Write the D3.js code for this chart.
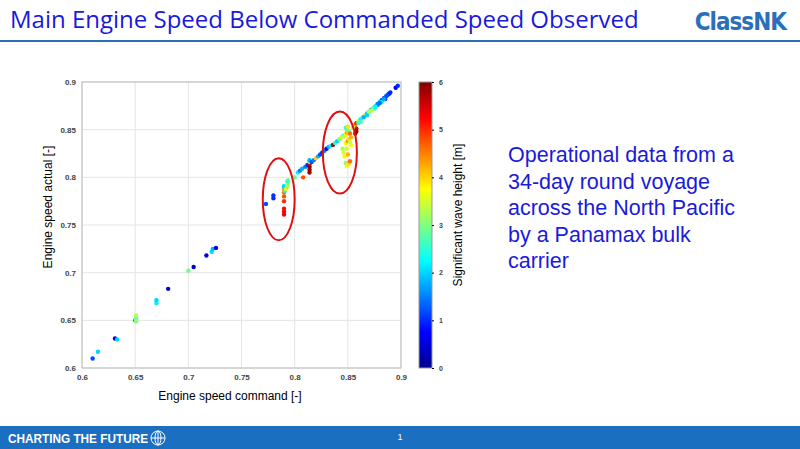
<!DOCTYPE html>
<html><head><meta charset="utf-8">
<script src="https://cdn.jsdelivr.net/npm/d3@7"></script>
<style>body{margin:0;background:#fff;}svg{display:block;font-family:Arial,"Liberation Sans",sans-serif;}</style>
</head><body><svg id="chart" width="800" height="449"></svg>
<script>
// engine speed command, actual, significant wave height
var cmd = [0.61,0.615,0.631,0.633,0.65,0.651,0.651,0.651,0.651,0.67,0.67,0.681,0.70,0.705,0.717,0.722,0.723,0.726,
  0.773,0.78,0.78,0.79,0.79,0.79,0.79,0.79,0.79,0.79,0.79,0.79,0.79,0.791,0.792,0.793,0.793,0.794,0.794,0.793,0.80,
  0.803,0.805,0.807,0.808,0.81,0.812,0.814,0.814,0.814,0.814,0.814,0.814,0.816,0.818,0.82,0.822,0.824,0.826,0.828,0.83,0.832,0.834,0.836,0.838,0.84,0.842,0.844,0.846,
  0.845,0.846,0.847,0.848,0.849,0.85,0.851,0.852,0.85,0.849,0.848,0.85,0.851,0.852,0.853,0.847,0.848,0.849,0.85,0.851,0.849,0.848,0.85,0.852,0.853,
  0.856,0.857,0.857,0.858,0.858,0.858,0.86,0.862,0.864,0.866,0.868,0.87,0.872,0.874,0.876,0.878,0.88,0.882,0.884,0.886,0.888,0.889,0.89,0.895,0.897,
  0.855,0.86,0.865,0.87,0.875,0.878,0.882,0.885,0.862,0.868,0.872,0.876,0.88,0.884,0.887];
var actual = [0.61,0.617,0.631,0.63,0.65,0.649,0.651,0.653,0.655,0.668,0.671,0.683,0.702,0.706,0.718,0.722,0.725,0.726,
  0.772,0.778,0.781,0.761,0.764,0.767,0.775,0.78,0.784,0.787,0.789,0.791,0.79,0.786,0.788,0.79,0.792,0.795,0.797,0.796,0.80,
  0.805,0.807,0.809,0.80,0.811,0.813,0.805,0.808,0.811,0.814,0.816,0.818,0.816,0.818,0.82,0.822,0.824,0.826,0.828,0.83,0.832,0.833,0.834,0.836,0.838,0.84,0.842,0.844,
  0.83,0.826,0.822,0.815,0.812,0.813,0.815,0.817,0.824,0.83,0.836,0.838,0.84,0.837,0.834,0.843,0.845,0.847,0.849,0.848,0.85,0.852,0.853,0.846,0.842,
  0.854,0.855,0.846,0.848,0.851,0.857,0.859,0.861,0.863,0.865,0.867,0.869,0.871,0.873,0.875,0.877,0.879,0.881,0.883,0.885,0.887,0.888,0.889,0.894,0.896,
  0.852,0.857,0.863,0.868,0.872,0.876,0.879,0.882,0.858,0.865,0.87,0.874,0.878,0.882,0.886];
var wave = [1.2,2.0,0.5,2.0,1.5,3.0,3.2,2.8,3.3,2.2,2.0,0.4,2.9,0.5,0.5,2.0,1.8,0.6,
  1.2,1.0,1.0,5.3,5.3,5.2,5.0,4.8,4.6,4.3,4.5,2.2,2.0,2.4,3.6,4.0,3.2,3.5,3.0,2.6,2.8,
  2.2,1.5,1.8,4.8,1.5,1.0,5.8,5.9,6.0,5.7,2.8,1.8,1.2,1.5,4.0,1.8,1.2,1.0,1.5,0.8,1.8,2.2,5.8,2.5,2.0,3.0,3.4,2.6,
  3.2,3.5,3.8,3.0,3.6,3.8,4.0,4.6,4.2,3.5,3.8,4.4,4.0,3.4,3.8,3.6,3.8,4.2,3.3,3.0,2.8,2.6,3.9,4.6,4.2,
  4.3,4.4,5.9,5.8,5.6,5.0,3.5,2.2,2.8,3.2,2.0,2.6,1.8,3.0,2.4,1.5,2.0,1.2,1.0,1.3,1.1,0.8,1.0,0.6,1.0,
  3.4,2.5,1.8,3.2,2.8,1.5,2.2,1.1,2.6,2.0,3.4,2.2,1.4,1.7,1.2];

var xTicks = [0.6,0.65,0.7,0.75,0.8,0.85,0.9];
var yTicks = [0.6,0.65,0.7,0.75,0.8,0.85,0.9];
var cTicks = [0,1,2,3,4,5,6];
// highlighted regions: centre command, centre actual, half widths
var rings = [[0.785,0.777,0.015,0.043],[0.8425,0.826,0.016,0.043]];

var svg = d3.select("#chart");

// header
svg.append("text").attr("x",10).attr("y",28).attr("fill","#1a1adb").attr("font-size",24)
  .attr("font-family","'Open Sans',Calibri,sans-serif").text("Main Engine Speed Below Commanded Speed Observed");
svg.append("text").attr("x",786).attr("y",30).attr("text-anchor","end").attr("fill","#2a6fba")
  .attr("font-size",24).attr("font-weight","bold").attr("font-family","'Liberation Sans Narrow','DejaVu Sans Condensed',sans-serif")
  .attr("letter-spacing",-1).text("ClassNK");
svg.append("rect").attr("x",0).attr("y",40).attr("width",800).attr("height",2).attr("fill","#2a6fba");

// footer
svg.append("rect").attr("x",0).attr("y",426).attr("width",800).attr("height",23).attr("fill","#1a6fc0");
svg.append("text").attr("x",8).attr("y",443).attr("fill","#fff").attr("font-size",12).attr("font-weight","bold")
  .attr("textLength",140).attr("lengthAdjust","spacingAndGlyphs").text("CHARTING THE FUTURE");
var globe = svg.append("g").attr("transform","translate(158,438)").attr("fill","none").attr("stroke","#fff").attr("stroke-width",1);
globe.append("circle").attr("r",7);
globe.append("ellipse").attr("rx",3).attr("ry",7);
globe.append("line").attr("x1",-7).attr("x2",7);
globe.append("line").attr("y1",-7).attr("y2",7);
svg.append("text").attr("x",400).attr("y",440).attr("fill","#fff").attr("font-size",9).attr("text-anchor","middle").text("1");

// right text
var lines = ["Operational data from a","34-day round voyage","across the North Pacific","by a Panamax bulk","carrier"];
svg.append("g").selectAll("text").data(lines).join("text")
  .attr("x",508).attr("y",(d,i)=>162+i*26.5).attr("fill","#1a1adb").attr("font-size",21.5).text(d=>d);

// plot
var x = d3.scaleLinear().domain([0.6,0.9]).range([82,401]);
var y = d3.scaleLinear().domain([0.6,0.9]).range([368,82]);

var jetStops = ["#00008f","#0000ff","#0080ff","#00ffff","#80ff80","#ffff00","#ff8000","#ff0000","#800000"];
var jet = d3.scaleLinear().domain(d3.range(jetStops.length).map(i=>i*6/(jetStops.length-1))).range(jetStops).clamp(true);

var g = svg.append("g");
g.selectAll(".gx").data(xTicks).join("line").attr("x1",d=>x(d)).attr("x2",d=>x(d)).attr("y1",82).attr("y2",368).attr("stroke","#e4e4e4");
g.selectAll(".gy").data(yTicks).join("line").attr("y1",d=>y(d)).attr("y2",d=>y(d)).attr("x1",82).attr("x2",401).attr("stroke","#e4e4e4");
g.append("rect").attr("x",82).attr("y",82).attr("width",319).attr("height",286).attr("fill","none").attr("stroke","#bbb");

var xAxis = svg.append("g").attr("transform","translate(0,368)").call(d3.axisBottom(x).tickValues(xTicks).tickSize(0).tickPadding(6).tickFormat(d3.format("")));
var yAxis = svg.append("g").attr("transform","translate(82,0)").call(d3.axisLeft(y).tickValues(yTicks).tickSize(0).tickPadding(6).tickFormat(d3.format("")));
[xAxis,yAxis].forEach(a=>{a.select(".domain").remove();a.selectAll("text").attr("font-size",8).attr("font-weight","bold").attr("fill","#444");});

svg.append("text").attr("x",230).attr("y",400).attr("text-anchor","middle").attr("font-size",12).text("Engine speed command [-]");
svg.append("text").attr("transform","translate(52,207) rotate(-90)").attr("text-anchor","middle").attr("font-size",12).text("Engine speed actual [-]");

var pts = cmd.map((c,i)=>({c:c,a:actual[i],h:wave[i]}));
svg.append("g").selectAll("circle").data(pts).join("circle")
  .attr("cx",d=>x(d.c)).attr("cy",d=>y(d.a)).attr("r",2.2).attr("fill",d=>jet(d.h));

svg.append("g").selectAll("ellipse").data(rings).join("ellipse")
  .attr("cx",d=>x(d[0])).attr("cy",d=>y(d[1]))
  .attr("rx",d=>x(d[0]+d[2])-x(d[0])).attr("ry",d=>y(d[1])-y(d[1]+d[3]))
  .attr("fill","none").attr("stroke","#e01010").attr("stroke-width",2);

// colour bar
var cb = d3.scaleLinear().domain([0,6]).range([368,82]);
var defs = svg.append("defs");
var grad = defs.append("linearGradient").attr("id","jet").attr("x1",0).attr("y1",1).attr("x2",0).attr("y2",0);
jetStops.forEach((c,i)=>grad.append("stop").attr("offset",i/(jetStops.length-1)).attr("stop-color",c));
svg.append("rect").attr("x",419).attr("y",82).attr("width",13).attr("height",286).attr("fill","url(#jet)").attr("stroke","#999");
var cAxis = svg.append("g").attr("transform","translate(432,0)").call(d3.axisRight(cb).tickValues(cTicks).tickSize(2).tickPadding(5).tickFormat(d3.format("d")));
cAxis.select(".domain").remove();
cAxis.selectAll("text").attr("font-size",7).attr("font-weight","bold").attr("fill","#444");
svg.append("text").attr("transform","translate(462,215) rotate(-90)").attr("text-anchor","middle").attr("font-size",12).text("Significant wave height [m]");
</script></body></html>
